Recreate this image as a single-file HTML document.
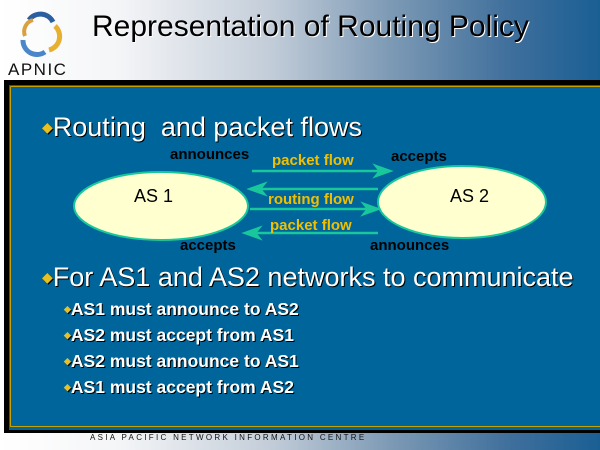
<!DOCTYPE html>
<html><head><style>
body{margin:0;width:600px;height:450px;overflow:hidden;position:relative;font-family:"Liberation Sans",sans-serif;background:linear-gradient(90deg,#fff 0%,#f4f5f7 20%,#c3cdd9 45%,#7d9ab5 65%,#3f6f9c 85%,#1a5f94 100%);}
.t{position:absolute;white-space:nowrap}
.s{position:absolute;left:64px;font-size:17.5px;font-weight:bold;color:#fff;text-shadow:1px 1px 0 #000;white-space:nowrap}
.s span{color:#e8c020;font-size:9px;vertical-align:3px}
</style></head><body>
<svg width="600" height="450" style="position:absolute;left:0;top:0">
  <rect x="4" y="80" width="596" height="353" fill="#000"/>
  <rect x="9" y="85" width="591" height="345" fill="#00659a"/>
  <path d="M10.5 86.5H600M10.5 86.5V426.5H600" stroke="#c8a000" stroke-width="1" fill="none"/>
  <g transform="translate(19,10)">
    <path d="M10 10 A14 14 0 0 1 34 12" stroke="#2a5fa0" stroke-width="5" fill="none"/>
    <path d="M36 16 A14 14 0 0 1 30 40" stroke="#e8b030" stroke-width="5" fill="none"/>
    <path d="M26 42 A14 14 0 0 1 4 30" stroke="#4a86c8" stroke-width="5" fill="none"/>
    <path d="M6 26 A12 12 0 0 1 14 10" stroke="#d8a040" stroke-width="4" fill="none"/>
  </g>
  <ellipse cx="161" cy="206" rx="87" ry="34" fill="#ffffd0" stroke="#18c89c" stroke-width="2"/>
  <ellipse cx="462" cy="202" rx="84" ry="36" fill="#ffffd0" stroke="#18c89c" stroke-width="2"/>
  <g stroke="#18c89c" stroke-width="2.5" fill="#18c89c">
    <line x1="252" y1="171" x2="382" y2="171"/><path d="M390 171 L376 166 L380 171 L376 176Z"/>
    <line x1="378" y1="189" x2="258" y2="189"/><path d="M250 189 L264 184 L260 189 L264 194Z"/>
    <line x1="250" y1="209" x2="370" y2="209"/><path d="M378 209 L364 204 L368 209 L364 214Z"/>
    <line x1="378" y1="233" x2="253" y2="233"/><path d="M245 233 L259 228 L255 233 L259 238Z"/>
  </g>
</svg>
<div class="t" style="left:8px;top:60px;font-size:17px;letter-spacing:1.5px;color:#111">APNIC</div>
<div class="t" style="left:92px;top:10px;font-size:30px;color:#000;text-shadow:1px 1px 0 #fff">Representation of Routing Policy</div>
<div class="t" style="left:90px;top:433px;font-size:8px;letter-spacing:2.3px;color:#111">ASIA PACIFIC NETWORK INFORMATION CENTRE</div>
<div class="t" style="left:42px;top:112px;font-size:27px;color:#fff;text-shadow:1px 1px 0 #000"><span style="color:#e8c020;font-size:14px;vertical-align:4px">◆</span>Routing&nbsp; and packet flows</div>
<div class="t" style="left:42px;top:262px;font-size:27px;color:#fff;text-shadow:1px 1px 0 #000"><span style="color:#e8c020;font-size:14px;vertical-align:4px">◆</span>For AS1 and AS2 networks to communicate</div>
<div class="s" style="top:299px"><span>◆</span>AS1 must announce to AS2</div>
<div class="s" style="top:325px"><span>◆</span>AS2 must accept from AS1</div>
<div class="s" style="top:351px"><span>◆</span>AS2 must announce to AS1</div>
<div class="s" style="top:377px"><span>◆</span>AS1 must accept from AS2</div>
<div class="t" style="left:134px;top:186px;font-size:18px;color:#000">AS 1</div>
<div class="t" style="left:450px;top:186px;font-size:18px;color:#000">AS 2</div>
<div class="t" style="left:170px;top:146px;font-size:15px;font-weight:bold;color:#000">announces</div>
<div class="t" style="left:391px;top:148px;font-size:15px;font-weight:bold;color:#000">accepts</div>
<div class="t" style="left:180px;top:237px;font-size:15px;font-weight:bold;color:#000">accepts</div>
<div class="t" style="left:370px;top:237px;font-size:15px;font-weight:bold;color:#000">announces</div>
<div class="t" style="left:272px;top:152px;font-size:15px;font-weight:bold;color:#f0c000">packet flow</div>
<div class="t" style="left:268px;top:191px;font-size:15px;font-weight:bold;color:#f0c000">routing flow</div>
<div class="t" style="left:270px;top:217px;font-size:15px;font-weight:bold;color:#f0c000">packet flow</div>
</body></html>
